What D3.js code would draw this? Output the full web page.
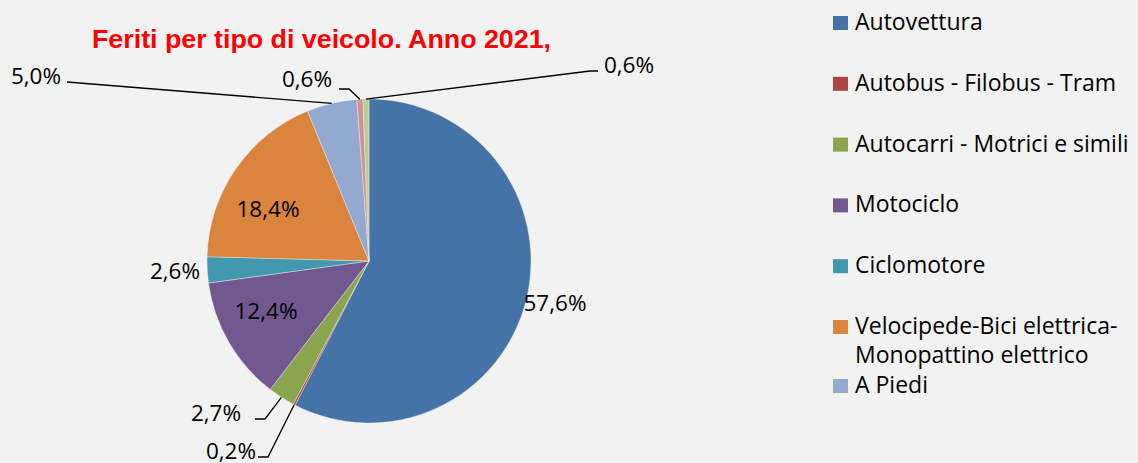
<!DOCTYPE html>
<html>
<head>
<meta charset="utf-8">
<script src="https://cdn.jsdelivr.net/npm/d3@7"></script>
<style>
  body { margin: 0; background: #f2f2f2; }
  svg { display: block; }
  text { font-family: "Open Sans", Lato, sans-serif; fill: #000; }
</style>
</head>
<body>
<div id="chart"></div>
<script>
var width = 1138,
  height = 463;

// dati
var categorie = ['Autovettura', 'Autobus - Filobus - Tram', 'Autocarri - Motrici e simili', 'Motociclo',
  'Ciclomotore', 'Velocipede-Bici elettrica-Monopattino elettrico', 'A Piedi', 'Altro', 'Non indicato'];
var valori = [57.6, 0.2, 2.7, 12.4, 2.6, 18.4, 5.0, 0.6, 0.6];
var colori = ['#4572a7', '#aa4643', '#89a54e', '#71588f', '#4198af', '#db843d', '#93a9cf', '#d19392', '#b9cd96'];
// righe della legenda (solo le prime 7 sono visibili)
var legendaRighe = [['Autovettura'], ['Autobus - Filobus - Tram'], ['Autocarri - Motrici e simili'], ['Motociclo'],
  ['Ciclomotore'], ['Velocipede-Bici elettrica-', 'Monopattino elettrico'], ['A Piedi']];

var cx = 369, cy = 261, r = 162;

var svg = d3.select('#chart').append('svg')
  .attr('width', width)
  .attr('height', height);

svg.append('text')
  .attr('x', 92)
  .attr('y', 48)
  .attr('textLength', 459)
  .attr('lengthAdjust', 'spacingAndGlyphs')
  .style('font-family', '"Liberation Sans", Arial, sans-serif')
  .style('font-weight', 'bold')
  .style('font-size', '26px')
  .style('fill', '#ff0000')
  .text('Feriti per tipo di veicolo. Anno 2021,');

var pie = d3.pie().sort(null).value(function(d) { return d; });
var arcs = pie(valori);
var arc = d3.arc().innerRadius(0).outerRadius(r);
var edge = d3.arc().innerRadius(r).outerRadius(r);

var g = svg.append('g').attr('transform', 'translate(' + cx + ',' + cy + ')');

g.selectAll('path')
  .data(arcs)
  .enter().append('path')
  .attr('d', arc)
  .attr('fill', function(d, i) { return colori[i]; })
  .attr('stroke', '#f2f2f2')
  .attr('stroke-width', 0.4);

function fmt(v) { return v.toFixed(1).replace('.', ',') + '%'; }

// posizione etichette: punto del testo (assoluto) e gomito della linea guida
var etichette = [
  { x: 555, y: 311 },
  { x: 231, y: 459, elbow: [[258, 457], [268, 457]] },
  { x: 216, y: 421, elbow: [[255, 419], [265, 419]] },
  { x: 266, y: 319 },
  { x: 175, y: 279 },
  { x: 268, y: 217 },
  { x: 36, y: 84, elbow: [[67, 82], [67, 82]] },
  { x: 307, y: 87, elbow: [[339, 89], [349, 89]] },
  { x: 629, y: 73, elbow: [[598, 71], [590, 71]] }
];

var line = d3.line();
arcs.forEach(function(d, i) {
  var e = etichette[i];
  if (e.elbow) {
    var c = edge.centroid(d);
    var p = [c[0] + cx, c[1] + cy];
    svg.append('path')
      .attr('d', line([e.elbow[0], e.elbow[1], p]))
      .attr('fill', 'none')
      .attr('stroke', '#000')
      .attr('stroke-width', 1.3);
  }
  svg.append('text')
    .attr('x', e.x)
    .attr('y', e.y)
    .attr('text-anchor', 'middle')
    .style('font-size', '22.5px')
    .text(fmt(valori[i]));
});

// legenda
var leg = svg.append('g').attr('transform', 'translate(833,0)');
var legY = d3.scaleLinear().domain([0, 5]).range([22, 326]);
var voci = leg.selectAll('g')
  .data(legendaRighe)
  .enter().append('g')
  .attr('transform', function(d, i) {
    var y = i === 6 ? 385 : legY(i);
    return 'translate(0,' + y + ')';
  });
voci.append('rect')
  .attr('x', 0)
  .attr('y', -6)
  .attr('width', 15)
  .attr('height', 14)
  .attr('fill', function(d, i) { return colori[i]; });
voci.append('text')
  .attr('x', 22)
  .attr('y', 8)
  .style('font-size', '23px')
  .selectAll('tspan')
  .data(function(d) { return d; })
  .enter().append('tspan')
  .attr('x', 22)
  .attr('dy', function(d, j) { return j === 0 ? 0 : 29; })
  .text(function(d) { return d; });
</script>
</body>
</html>
